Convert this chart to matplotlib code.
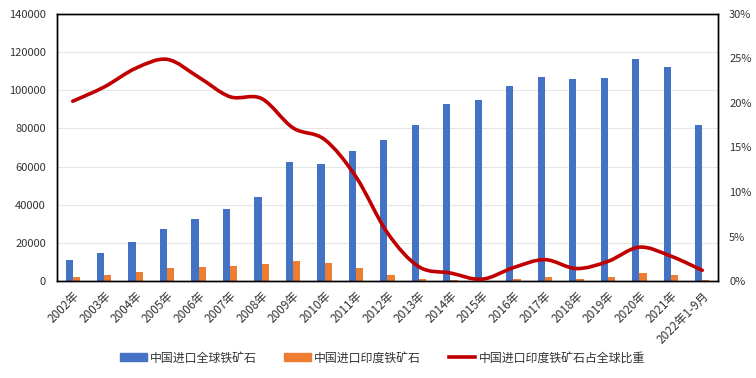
import numpy as np
import matplotlib
matplotlib.use('Agg')
import matplotlib.pyplot as plt
from matplotlib.path import Path
from matplotlib.patches import PathPatch
from matplotlib.lines import Line2D
from matplotlib.patches import Patch
from matplotlib.ticker import FuncFormatter

plt.rcParams['font.family'] = ['Noto Sans CJK SC', 'DejaVu Sans']

years = ['2002年', '2003年', '2004年', '2005年', '2006年', '2007年', '2008年',
         '2009年', '2010年', '2011年', '2012年', '2013年', '2014年', '2015年',
         '2016年', '2017年', '2018年', '2019年', '2020年', '2021年',
         '2022年1-9月']
global_ore = [11000, 14700, 20500, 27300, 32600, 37800, 44100, 62500, 61400,
              68300, 74000, 81900, 92900, 95000, 102400, 107100, 106100,
              106600, 116600, 112400, 81900]
india_ore = [2100, 3200, 4700, 6800, 7400, 7900, 8900, 10500, 9500, 6800,
             3200, 1000, 500, 200, 1000, 2100, 1000, 2100, 4200, 3200, 500]
india_share = [20.2, 21.8, 23.9, 24.9, 22.9, 20.7, 20.5, 17.2, 15.9, 11.7,
               5.4, 1.6, 0.9, 0.2, 1.5, 2.4, 1.4, 2.2, 3.8, 2.8, 1.2]

blue = '#4472C4'
orange = '#ED7D31'
red = '#C00000'

fig = plt.figure(figsize=(7.56, 3.78), dpi=100)
ax = fig.add_axes([0.0754, 0.2566, 0.8743, 0.7064])
x = np.arange(len(years))
w = 0.23
ax.bar(x - w / 2, global_ore, w, color=blue, zorder=2)
ax.bar(x + w / 2, india_ore, w, color=orange, zorder=2)
ax.set_xlim(-0.5, len(years) - 0.5)
ax.set_ylim(0, 140000)
ax.set_yticks(range(0, 140001, 20000))
ax.grid(axis='y', color='#E6E6E6', linewidth=0.8, zorder=0)
ax.set_axisbelow(True)
ax.set_xticks(x)
ax.set_xticklabels(years, rotation=45, ha='right', rotation_mode='anchor',
                   fontsize=8.5, color='#333333')
ax.tick_params(axis='x', length=0, pad=6)
ax.tick_params(axis='y', length=0, labelsize=8, labelcolor='#333333', pad=8)
for s in ax.spines.values():
    s.set_color('black')
    s.set_linewidth(1)

ax2 = ax.twinx()
ax2.set_ylim(0, 30)
ax2.set_yticks(range(0, 31, 5))
ax2.yaxis.set_major_formatter(FuncFormatter(lambda v, p: '%d%%' % v))
ax2.tick_params(axis='y', length=0, labelsize=8, labelcolor='#333333', pad=8)
for s in ax2.spines.values():
    s.set_color('black')
    s.set_linewidth(1)

# smoothed line (Catmull-Rom as cubic bezier)
pts = np.column_stack([x, india_share]).astype(float)
verts = [tuple(pts[0])]
codes = [Path.MOVETO]
t = 1 / 6
for i in range(len(pts) - 1):
    p0 = pts[i - 1] if i > 0 else pts[i]
    p1 = pts[i]
    p2 = pts[i + 1]
    p3 = pts[i + 2] if i + 2 < len(pts) else pts[i + 1]
    c1 = p1 + (p2 - p0) * t
    c2 = p2 - (p3 - p1) * t
    verts += [tuple(c1), tuple(c2), tuple(p2)]
    codes += [Path.CURVE4] * 3
ax2.add_patch(PathPatch(Path(verts, codes), facecolor='none', edgecolor=red,
                        linewidth=2.6, capstyle='round', zorder=3))

handles = [Patch(color=blue), Patch(color=orange),
           Line2D([0], [0], color=red, linewidth=2.6)]
labels = ['中国进口全球铁矿石', '中国进口印度铁矿石', '中国进口印度铁矿石占全球比重']
fig.legend(handles, labels, loc='center', bbox_to_anchor=(0.506, 0.053),
           ncol=3, frameon=False, fontsize=8.6, handlelength=2.2,
           handleheight=0.6, handletextpad=0.3, columnspacing=2.3,
           labelcolor='#333333')

fig.savefig('out.png', dpi=100)
